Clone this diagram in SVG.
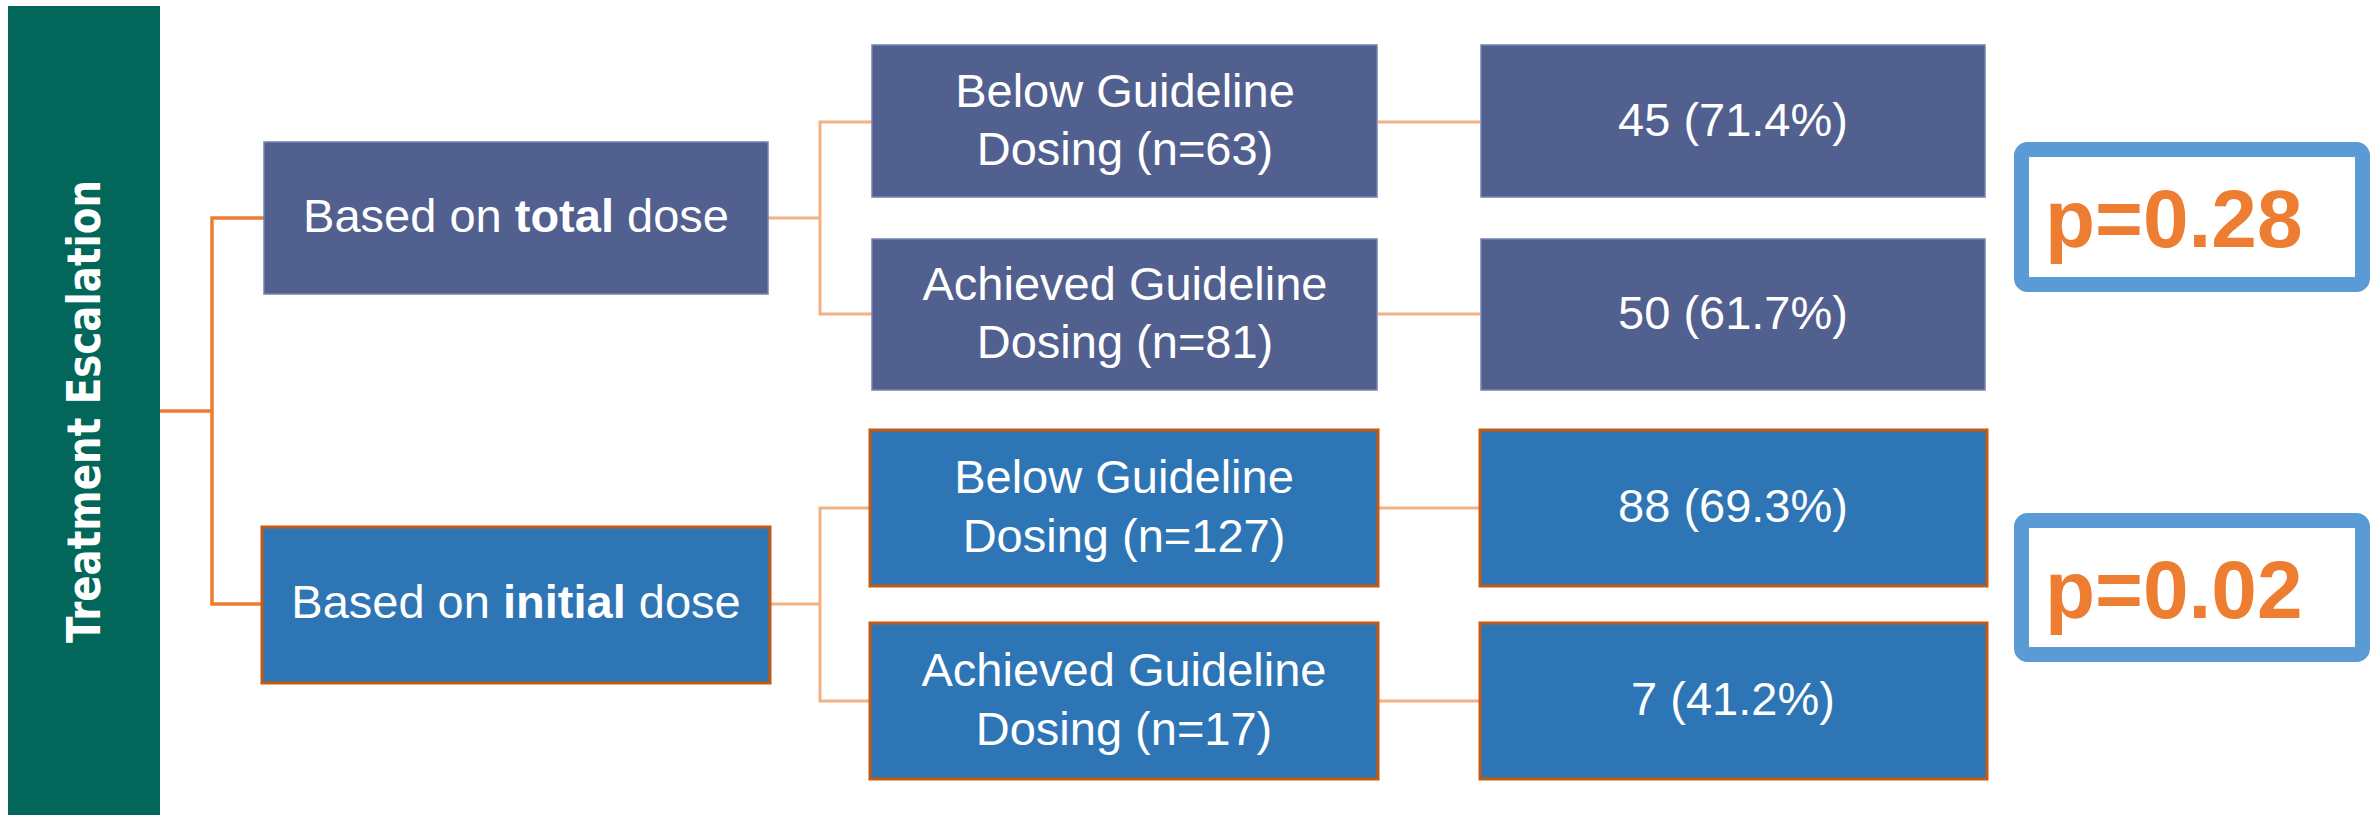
<svg xmlns="http://www.w3.org/2000/svg" width="2380" height="815" viewBox="0 0 2380 815">
<style>
.t{font-family:"Liberation Sans",Arial,sans-serif;font-size:47px;fill:#fff;text-anchor:middle}
.b{font-weight:bold}
.slate{fill:#52608F;stroke:#7482AD;stroke-width:1.5}
.blue{fill:#2E75B6;stroke:#C55A11;stroke-width:3}
.c1{fill:none;stroke:#ED7D31;stroke-width:3.5}
.c2{fill:none;stroke:#F4B183;stroke-width:3}
.pbox{fill:#fff;stroke:#5B9BD5;stroke-width:15}
.p{font-family:"Liberation Sans",Arial,sans-serif;font-size:82px;font-weight:bold;fill:#ED7D31}
</style>
<rect width="2380" height="815" fill="#fff"/>
<g id="connectors">
<polyline class="c1" points="160,411 212,411"/>
<polyline class="c1" points="264,218 212,218 212,604 262,604"/>
<polyline class="c2" points="768,218 820,218"/>
<polyline class="c2" points="872,122 820,122 820,314 872,314"/>
<polyline class="c2" points="1378,122 1480,122"/>
<polyline class="c2" points="1378,314 1480,314"/>
<polyline class="c2" points="770,604 820,604"/>
<polyline class="c2" points="870,508 820,508 820,701 870,701"/>
<polyline class="c2" points="1378,508 1480,508"/>
<polyline class="c2" points="1378,701 1480,701"/>
</g>
<g id="title">
<rect x="8" y="6" width="152" height="809" fill="#02665A"/>
<text transform="translate(100,411.5) rotate(-90)" text-anchor="middle" font-family="DejaVu Sans,Verdana,sans-serif" font-weight="bold" font-size="47" textLength="463" lengthAdjust="spacingAndGlyphs" fill="#fff">Treatment Escalation</text>
</g>
<g id="total">
<rect class="slate" x="264" y="142" width="504" height="152"/>
<text class="t" x="516" y="232">Based on <tspan class="b">total</tspan> dose</text>
</g>
<g id="initial">
<rect class="blue" x="262" y="527" width="508" height="156"/>
<text class="t" x="516" y="618">Based on <tspan class="b">initial</tspan> dose</text>
</g>
<g id="total-below">
<rect class="slate" x="872" y="45" width="505" height="152"/>
<text class="t" x="1125" y="107">Below Guideline</text>
<text class="t" x="1125" y="165">Dosing (n=63)</text>
</g>
<g id="total-achieved">
<rect class="slate" x="872" y="239" width="505" height="151"/>
<text class="t" x="1125" y="300">Achieved Guideline</text>
<text class="t" x="1125" y="358">Dosing (n=81)</text>
</g>
<g id="initial-below">
<rect class="blue" x="870" y="430" width="508" height="156"/>
<text class="t" x="1124" y="493">Below Guideline</text>
<text class="t" x="1124" y="552">Dosing (n=127)</text>
</g>
<g id="initial-achieved">
<rect class="blue" x="870" y="623" width="508" height="156"/>
<text class="t" x="1124" y="686">Achieved Guideline</text>
<text class="t" x="1124" y="745">Dosing (n=17)</text>
</g>
<g id="r1">
<rect class="slate" x="1481" y="45" width="504" height="152"/>
<text class="t" x="1733" y="136">45 (71.4%)</text>
</g>
<g id="r2">
<rect class="slate" x="1481" y="239" width="504" height="151"/>
<text class="t" x="1733" y="329">50 (61.7%)</text>
</g>
<g id="r3">
<rect class="blue" x="1480" y="430" width="507" height="156"/>
<text class="t" x="1733" y="522">88 (69.3%)</text>
</g>
<g id="r4">
<rect class="blue" x="1480" y="623" width="507" height="156"/>
<text class="t" x="1733" y="715">7 (41.2%)</text>
</g>
<g id="p1">
<rect class="pbox" x="2021.5" y="149.5" width="341" height="135" rx="6"/>
<text class="p" x="2045" y="247">p=0.28</text>
</g>
<g id="p2">
<rect class="pbox" x="2021.5" y="520.5" width="341" height="134" rx="6"/>
<text class="p" x="2045" y="618">p=0.02</text>
</g>
</svg>
